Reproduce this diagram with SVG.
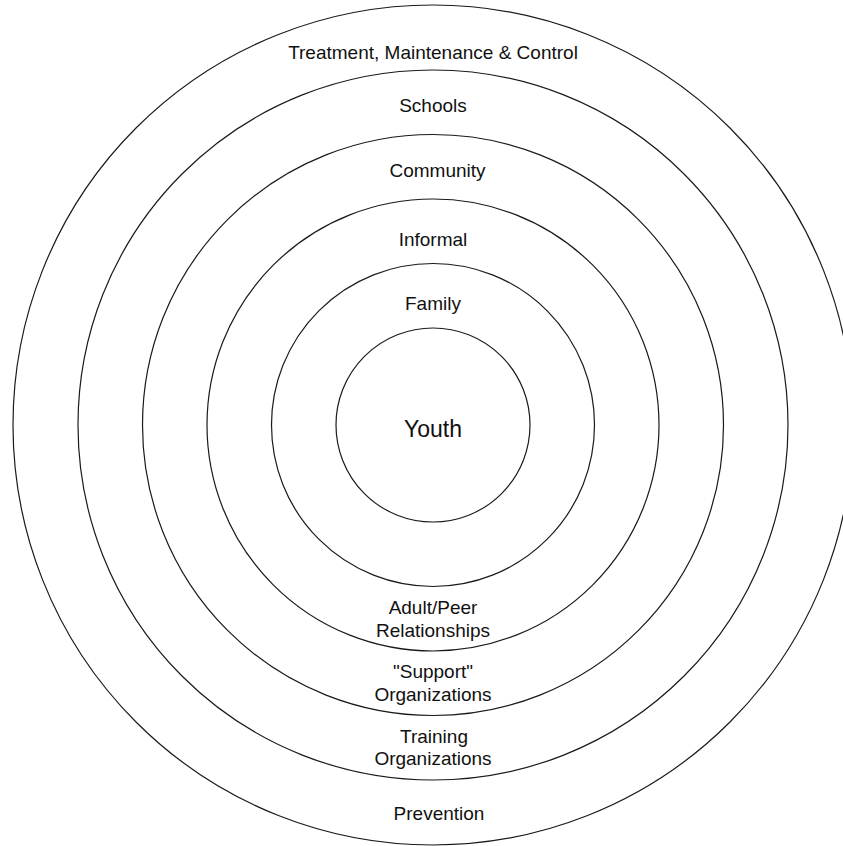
<svg xmlns="http://www.w3.org/2000/svg" width="843" height="846" viewBox="0 0 843 846">
<style>
.ring{fill:none;stroke:#1a1a1a;stroke-width:1.2}
.lbl{font-family:"Liberation Sans",Arial,sans-serif;font-size:19px;fill:#111;text-anchor:middle}
.big{font-size:23px}
</style>
<rect width="843" height="846" fill="#fff"/>
<g id="ring-treatment"><circle class="ring" cx="433" cy="425" r="420"/>
<text class="lbl" x="433" y="59">Treatment, Maintenance &amp; Control</text>
<text class="lbl" x="439" y="820">Prevention</text></g>
<g id="ring-schools"><circle class="ring" cx="433" cy="425" r="355"/>
<text class="lbl" x="433" y="112">Schools</text>
<text class="lbl" x="434" y="743">Training</text>
<text class="lbl" x="433" y="765">Organizations</text></g>
<g id="ring-community"><circle class="ring" cx="433" cy="425" r="290.5"/>
<text class="lbl" x="437.5" y="177">Community</text>
<text class="lbl" x="433" y="678">"Support"</text>
<text class="lbl" x="433" y="701">Organizations</text></g>
<g id="ring-informal"><circle class="ring" cx="433" cy="425" r="226"/>
<text class="lbl" x="433" y="246">Informal</text>
<text class="lbl" x="433" y="614">Adult/Peer</text>
<text class="lbl" x="433" y="637">Relationships</text></g>
<g id="ring-family"><circle class="ring" cx="433" cy="425" r="161.5"/>
<text class="lbl" x="433" y="310">Family</text></g>
<g id="youth"><circle class="ring" cx="433" cy="425" r="97"/>
<text class="lbl big" x="433" y="437">Youth</text></g>
<g id="connectors"/>
</svg>
